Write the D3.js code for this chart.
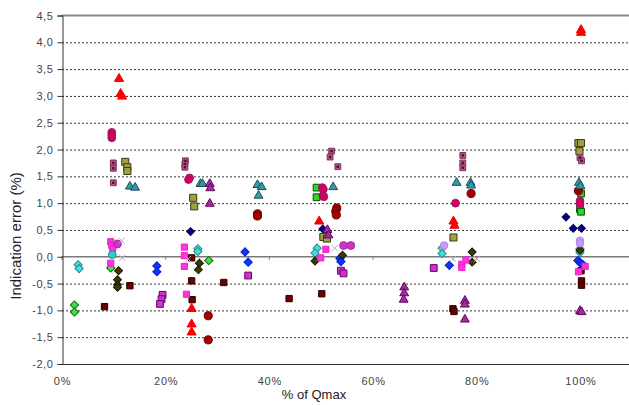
<!DOCTYPE html>
<html><head><meta charset="utf-8">
<script src="https://cdn.jsdelivr.net/npm/d3@7"></script>
<style>body{margin:0;background:#fff}svg{display:block}text{font-family:"Liberation Sans",Arial,sans-serif}</style>
</head><body><svg id="c" width="629" height="405"></svg>
<script>
// ---- data: [x (% of Qmax), y (indication error %)] ----
const xTicks = [0, 20, 40, 60, 80, 100];
const yTicks = [-2, -1.5, -1, -0.5, 0, 0.5, 1, 1.5, 2, 2.5, 3, 3.5, 4, 4.5];
const redTri = [[11.0,3.32],[11.3,3.04],[11.6,2.99],[25.0,-0.97],[25.0,-1.26],[25.0,-1.41],[49.6,0.66],[75.5,0.66],[75.7,0.58],[100.1,4.23],[100.1,4.18]];
const tealTri = [[13.1,1.31],[14.1,1.29],[26.7,1.36],[27.1,1.36],[37.7,1.34],[38.5,1.30],[37.9,1.14],[52.3,1.30],[76.1,1.38],[78.8,1.38],[78.9,1.33],[99.7,1.38],[100.0,1.32]];
const purpleTri = [[28.5,1.36],[28.6,1.28],[28.5,0.99],[51.2,0.50],[51.4,0.40],[66.0,-0.57],[66.0,-0.68],[65.9,-0.80],[77.7,-0.82],[77.7,-0.89],[77.7,-1.17],[99.9,-1.01],[100.2,-1.03]];
const mauveSq = [[9.9,1.75],[9.9,1.65],[9.9,1.38],[23.8,1.79],[23.7,1.73],[23.7,1.67],[52.0,1.97],[51.7,1.86],[53.2,1.68],[77.3,1.89],[77.3,1.75],[77.3,1.66],[99.9,1.85],[100.2,1.79]];
const oliveSq = [[12.2,1.77],[12.6,1.67],[12.6,1.60],[25.3,1.10],[25.5,0.94],[50.4,0.37],[51.1,0.34],[75.5,0.36],[99.6,2.12],[100.1,2.12],[99.8,1.97]];
const crimsonCirc = [[9.6,2.32],[9.6,2.27],[9.6,2.22],[24.6,1.47],[24.4,1.44],[50.2,1.29],[50.4,1.26],[50.3,1.14],[50.5,1.12],[75.9,1.00],[99.9,1.04],[99.9,0.99]];
const darkRedCirc = [[28.2,-1.10],[28.2,-1.55],[37.7,0.80],[37.7,0.76],[53.0,0.91],[52.8,0.85],[52.9,0.78],[78.9,1.18],[99.6,1.23]];
const greenSq = [[49.1,1.29],[49.1,1.11],[100.1,1.18],[99.9,0.89],[100.1,0.84]];
const navyDia = [[24.8,0.47],[50.3,0.52],[97.2,0.74],[98.6,0.53],[100.2,0.53]];
const blueDia = [[18.3,-0.17],[18.3,-0.28],[35.3,0.09],[35.9,-0.10],[53.6,-0.03],[53.8,-0.09],[74.7,-0.16],[99.5,-0.07],[99.9,-0.11],[100.4,-0.14]];
const cyanDia = [[3.1,-0.15],[3.3,-0.22],[26.2,0.15],[26.2,0.10],[49.2,0.16],[48.8,0.07],[73.3,0.16],[73.3,0.06],[99.9,0.15],[99.9,0.08]];
const greenDia = [[2.4,-0.90],[2.4,-1.03],[9.4,-0.21],[28.3,-0.07]];
const darkOliveDia = [[10.9,-0.26],[10.7,-0.43],[10.7,-0.52],[10.7,-0.57],[26.5,-0.12],[26.3,-0.24],[54.1,0.03],[48.8,-0.08],[79.1,0.09],[79.1,-0.10],[99.9,0.12]];
const brightMagSq = [[9.4,0.28],[9.6,0.21],[9.8,0.16],[9.4,-0.12],[23.6,0.18],[23.6,0.02],[23.6,-0.18],[24.0,-0.70],[50.9,0.14],[49.9,-0.02],[77.1,-0.14],[77.1,-0.20],[77.9,-0.06],[100.9,-0.18],[99.6,-0.28]];
const violetSq = [[19.4,-0.71],[19.2,-0.79],[18.9,-0.88],[35.9,-0.35],[53.8,-0.26],[54.3,-0.31],[71.7,-0.21]];
const maroonSq = [[8.2,-0.93],[13.1,-0.54],[25.0,-0.02],[25.0,-0.45],[25.1,-0.80],[31.2,-0.48],[43.8,-0.78],[50.1,-0.69],[75.4,-0.97],[75.6,-1.02],[100.1,-0.26],[100.2,-0.45],[100.2,-0.53]];
const magentaCirc = [[10.7,0.24],[54.3,0.21],[55.7,0.21]];
const cyanCirc = [[9.7,0.04]];
const lavenderCirc = [[73.7,0.21],[99.9,0.30],[99.9,0.25]];
const grayX = [[11.5,0.30],[11.6,-0.02],[24.3,-0.04],[52.6,0.16],[75.4,-0.04],[80.0,-0.04]];

// ---- styles (kept separate from data) ----
const S = d3.symbolSquare, T = d3.symbolTriangle, C = d3.symbolCircle, X = d3.symbolX;
const D = "dia";
const series = [
  {d: maroonSq,    sym: S, size: 40, fill: "#6b0000", stroke: "#2a0000"},
  {d: violetSq,    sym: S, size: 46, fill: "#cc33cc", stroke: "#660066"},
  {d: greenDia,    sym: D, size: 34, fill: "#44dd44", stroke: "#116611"},
  {d: cyanDia,     sym: D, size: 34, fill: "#44dddd", stroke: "#2a8c8c"},
  {d: blueDia,     sym: D, size: 34, fill: "#1133ff", stroke: "#0022cc"},
  {d: navyDia,     sym: D, size: 30, fill: "#000080", stroke: "#000060"},
  {d: darkOliveDia,sym: D, size: 32, fill: "#3a3a08", stroke: "#1a1a00"},
  {d: brightMagSq, sym: S, size: 38, fill: "#ff33dd", stroke: "#ee22cc"},
  {d: greenSq,     sym: S, size: 46, fill: "#22dd22", stroke: "#114411"},
  {d: oliveSq,     sym: S, size: 50, fill: "#a0a040", stroke: "#3a3a10"},
  {d: mauveSq,     sym: S, size: 34, fill: "#b3558a", stroke: "#80305c", dot: "#4a1030"},
  {d: darkRedCirc, sym: C, size: 52, fill: "#a30000", stroke: "#700000"},
  {d: crimsonCirc, sym: C, size: 48, fill: "#d6005b", stroke: "#9a1a6a"},
  {d: tealTri,     sym: T, size: 34, fill: "#3399aa", stroke: "#1f4e5a"},
  {d: purpleTri,   sym: T, size: 34, fill: "#993399", stroke: "#660066"},
  {d: redTri,      sym: T, size: 36, fill: "#ff0000", stroke: "#ee0000"},
  {d: magentaCirc, sym: C, size: 48, fill: "#cc33cc", stroke: "#993399"},
  {d: cyanCirc,    sym: C, size: 48, fill: "#33cccc", stroke: "#228888"},
  {d: lavenderCirc,sym: C, size: 44, fill: "#cc99ff", stroke: "#aa88dd"},
  {d: grayX,       sym: X, size: 26, fill: "none", stroke: "#c8a8c0"}
];

const svg = d3.select("#c");
const L = 62, TOP = 15.5, B = 364;
const x = d3.scaleLinear().domain([0, 120]).range([L, L + 120 * 5.185]);
const y = d3.scaleLinear().domain([-2, 4.5]).range([B, TOP]);
const fmtY = d => (d < 0 ? "-" : "") + Math.abs(d).toFixed(1).replace(".", ",");

svg.append("rect").attr("width", 629).attr("height", 405).attr("fill", "#fff");

// gridlines
svg.append("g").selectAll("line").data(yTicks.filter(v => v > -2 && v < 4.5 && v !== 0)).join("line")
  .attr("x1", L).attr("x2", 629).attr("y1", d => y(d) + 0.5).attr("y2", d => y(d) + 0.5)
  .attr("stroke", "#333").attr("stroke-width", 1).attr("stroke-dasharray", "2,2");
// top border
svg.append("line").attr("x1", L).attr("x2", 629).attr("y1", y(4.5)).attr("y2", y(4.5))
  .attr("stroke", "#8a8a8a").attr("stroke-width", 2);
// bottom line
svg.append("line").attr("x1", L).attr("x2", 629).attr("y1", B + 0.5).attr("y2", B + 0.5)
  .attr("stroke", "#333").attr("stroke-width", 1);
// zero line
svg.append("line").attr("x1", L).attr("x2", 629).attr("y1", y(0)).attr("y2", y(0))
  .attr("stroke", "#7a7a7a").attr("stroke-width", 1.5);
svg.append("g").selectAll("line").data(xTicks).join("line")
  .attr("x1", d => x(d)).attr("x2", d => x(d)).attr("y1", y(0) - 1).attr("y2", y(0) + 3)
  .attr("stroke", "#7a7a7a").attr("stroke-width", 1);

// y axis
const ya = svg.append("g").attr("transform", `translate(${L + 0.5},0)`)
  .call(d3.axisLeft(y).tickValues(yTicks).tickFormat(fmtY).tickSize(5).tickPadding(4));
ya.select(".domain").attr("stroke", "#333");
ya.selectAll(".tick line").attr("stroke", "#333");
ya.selectAll("text").attr("font-size", 11).attr("fill", "#444").attr("letter-spacing", 0.6)
  .attr("font-family", "Liberation Sans, Arial, sans-serif");

// x axis labels
const xa = svg.append("g").attr("transform", `translate(0,${B})`)
  .call(d3.axisBottom(x).tickValues(xTicks).tickFormat(d => d + "%").tickSize(0).tickPadding(13));
xa.select(".domain").remove();
xa.selectAll("text").attr("font-size", 11).attr("fill", "#444").attr("letter-spacing", 0.8)
  .attr("font-family", "Liberation Sans, Arial, sans-serif");

// axis titles
svg.append("text").attr("x", 314).attr("y", 399).attr("text-anchor", "middle")
  .attr("font-size", 13).attr("fill", "#222").text("% of Qmax");
svg.append("text").attr("transform", "translate(21,236) rotate(-90)").attr("text-anchor", "middle")
  .attr("font-size", 15).attr("fill", "#222").text("Indication error (%)");

// markers
const mg = svg.append("g");
series.forEach(s => {
  const isDia = s.sym === D;
  const sym = d3.symbol().type(isDia ? d3.symbolSquare : s.sym).size(s.size);
  mg.append("g").selectAll("path").data(s.d).join("path")
    .attr("transform", d => `translate(${x(d[0])},${y(d[1])})` + (isDia ? " rotate(45)" : ""))
    .attr("d", sym)
    .attr("fill", s.fill).attr("stroke", s.stroke).attr("stroke-width", 1);
  if (s.dot) {
    mg.append("g").selectAll("rect").data(s.d).join("rect")
      .attr("x", d => x(d[0]) - 1.2).attr("y", d => y(d[1]) - 1.2)
      .attr("width", 2.4).attr("height", 2.4).attr("fill", s.dot);
  }
});
</script></body></html>
